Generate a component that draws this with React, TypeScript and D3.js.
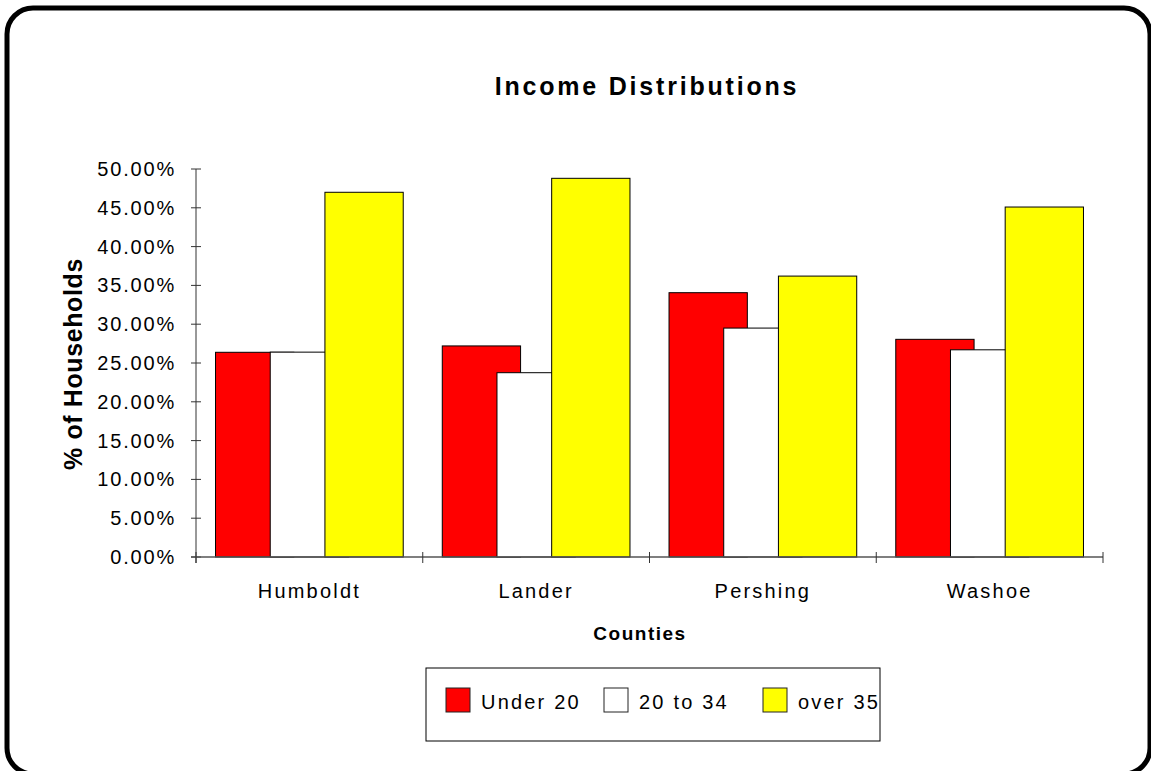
import React from "react";
import * as d3 from "d3";

const counties = ["Humboldt", "Lander", "Pershing", "Washoe"];
const seriesNames = ["Under 20", "20 to 34", "over 35"];
const under20 = [26.38, 27.2, 34.06, 28.05];
const age20to34 = [26.4, 23.75, 29.5, 26.7];
const over35 = [47.0, 48.8, 36.2, 45.1];
const seriesColors = ["#FF0000", "#FFFFFF", "#FFFF00"];
const yTicks = [0, 5, 10, 15, 20, 25, 30, 35, 40, 45, 50];

const FONT = "'Liberation Sans', Arial, Helvetica, sans-serif";

export default function App() {
  const W = 1151, H = 771;
  const x0 = 196, x1 = 1103, yBase = 557, yTop = 169;
  const x = d3.scaleBand<string>().domain(counties).range([x0, x1]).padding(0);
  const y = d3.scaleLinear().domain([0, 50]).range([yBase, yTop]);
  const series = [under20, age20to34, over35];
  const barW = 78.3;
  const step = 54.7;
  const groupW = step * (series.length - 1) + barW;
  const off = (x.bandwidth() - groupW) / 2;

  return (
    <svg width={W} height={H} style={{ position: "absolute", left: 0, top: 0, background: "#fff" }}>
      <rect x={7} y={8} width={1143} height={766} rx={26} ry={26} fill="#fff" stroke="#000" strokeWidth={5} />
      <text x={647} y={95} textAnchor="middle" fontFamily={FONT} fontWeight="bold" fontSize={25} letterSpacing={2.8}>
        Income Distributions
      </text>
      {/* bars */}
      {counties.map((c, ci) => (
        <g key={c}>
          {series.map((s, si) => (
            <rect
              key={si}
              x={(x(c) as number) + off + si * step}
              y={y(s[ci])}
              width={barW}
              height={yBase - y(s[ci])}
              fill={seriesColors[si]}
              stroke="#000"
              strokeWidth={1}
            />
          ))}
        </g>
      ))}
      {/* y axis */}
      <line x1={x0} x2={x0} y1={yTop} y2={yBase + 6} stroke="#333" strokeWidth={1} />
      {yTicks.map((t) => (
        <g key={t}>
          <line x1={x0 - 5} x2={x0 + 5} y1={y(t)} y2={y(t)} stroke="#333" strokeWidth={1} />
          <text x={176} y={y(t) + 7} textAnchor="end" fontFamily={FONT} fontSize={20} letterSpacing={1.8}>
            {t.toFixed(2) + "%"}
          </text>
        </g>
      ))}
      {/* x axis */}
      <line x1={x0 - 5} x2={x1} y1={yBase} y2={yBase} stroke="#555" strokeWidth={1.3} />
      {[...counties.map((c) => x(c) as number), x1].map((p, i) => (
        <line key={i} x1={p} x2={p} y1={yBase - 5} y2={yBase + 6} stroke="#333" strokeWidth={1} />
      ))}
      {counties.map((c) => (
        <text key={c} x={(x(c) as number) + x.bandwidth() / 2} y={598} textAnchor="middle" fontFamily={FONT} fontSize={20} letterSpacing={2.2}>
          {c}
        </text>
      ))}
      <text x={640} y={640} textAnchor="middle" fontFamily={FONT} fontWeight="bold" fontSize={19} letterSpacing={1.5}>
        Counties
      </text>
      <text
        transform="translate(82,364) rotate(-90)"
        textAnchor="middle"
        fontFamily={FONT}
        fontWeight="bold"
        fontSize={25}
        letterSpacing={0.6}
      >
        % of Households
      </text>
      {/* legend */}
      <rect x={426} y={668} width={454} height={73} fill="#fff" stroke="#000" strokeWidth={1} />
      {seriesNames.map((n, i) => {
        const sx = [446, 604, 763][i];
        return (
          <g key={n}>
            <rect x={sx} y={688} width={24} height={24} fill={seriesColors[i]} stroke="#222" strokeWidth={1} />
            <text x={sx + 35} y={709} fontFamily={FONT} fontSize={20} letterSpacing={2.2}>
              {n}
            </text>
          </g>
        );
      })}
    </svg>
  );
}
